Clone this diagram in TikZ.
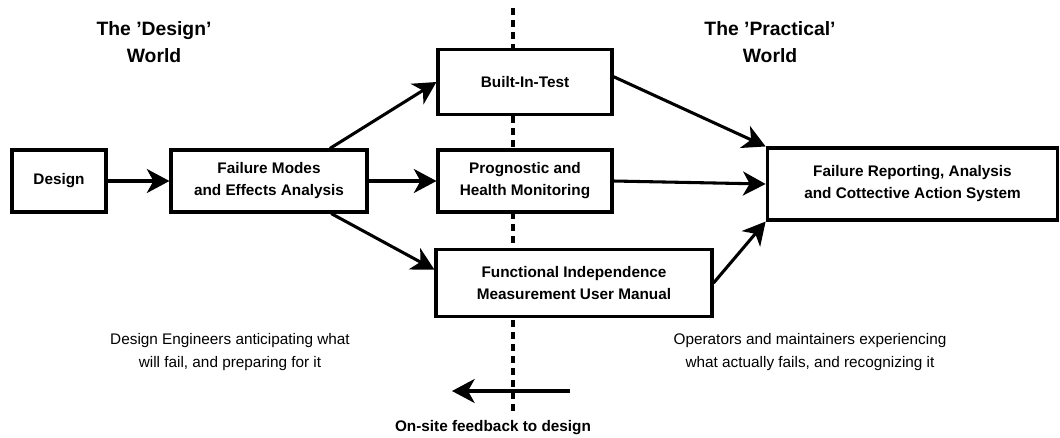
\documentclass[tikz,border=0pt]{standalone}
\usepackage{fontspec}
\setmainfont{Liberation Sans}
\usetikzlibrary{arrows.meta}

\begin{document}
\begin{tikzpicture}[x=0.75pt, y=-0.75pt,
	box/.style={draw=black, fill=white, line width=2.3pt, align=center, inner sep=0pt, font=\fontsize{11.5}{16.5}\selectfont\bfseries},
	title/.style={align=center, font=\fontsize{14.5}{20}\selectfont\bfseries},
	note/.style={align=center, font=\fontsize{11.5}{17}\selectfont},
	line/.style={line width=2.3pt, -{Stealth[length=17pt, width=18pt, inset=5pt]}}]

	\useasboundingbox (0, 0) rectangle (1060, 437);

	% border between the two worlds
	\coordinate (divtop) at (513, 8);
	\coordinate (divbot) at (513, 414);
	\draw[line width=2.3pt, dash pattern=on 5.5pt off 3.5pt] (divtop) -- (divbot);

	\node[title] (designworld) at (154, 42) {The 'Design'\\World};
	\node[title] (practworld) at (770, 42) {The 'Practical'\\World};

	\node[box, minimum width=70.5pt, minimum height=46.5pt] (design) at (59, 181) {Design};
	\node[box, minimum width=147pt, minimum height=46.5pt] (fmea) at (269, 181) {Failure Modes\\and Effects Analysis};
	\node[box, minimum width=130.5pt, minimum height=49pt] (bit) at (525, 82) {Built-In-Test};
	\node[box, minimum width=130.5pt, minimum height=46.5pt] (phm) at (525, 181) {Prognostic and\\Health Monitoring};
	\node[box, minimum width=207pt, minimum height=50pt] (fimum) at (574, 283) {Functional Independence\\Measurement User Manual};
	\node[box, minimum width=218pt, minimum height=54pt] (fracas) at (912.5, 184) {Failure Reporting, Analysis\\and Cottective Action System};

	\node[note] (designnote) at (230, 352) {Design Engineers anticipating what\\will fail, and preparing for it};
	\node[note] (practnote) at (810, 352) {Operators and maintainers experiencing\\what actually fails, and recognizing it};

	\draw[line] (design) -- (fmea);
	\draw[line] ([xshift=-29pt]fmea.north east) -- (bit.west);
	\draw[line] (fmea) -- (phm);
	\draw[line] ([xshift=-28pt]fmea.south east) -- ([yshift=10pt]fimum.west);

	% into the reporting system
	\draw[line] ([yshift=4pt]bit.east) -- (fracas.north west);
	\draw[line] (phm.east) -- (fracas.west);
	\draw[line] (fimum.east) -- (fracas.south west);

	% feedback
	\coordinate (fbstart) at (570, 391);
	\coordinate (fbend) at (452, 391);
	\draw[line] (fbstart) -- (fbend);
	\node[font=\fontsize{11.5}{14}\selectfont\bfseries] (fblabel) at (493, 428) {On-site feedback to design};

\end{tikzpicture}
\end{document}
